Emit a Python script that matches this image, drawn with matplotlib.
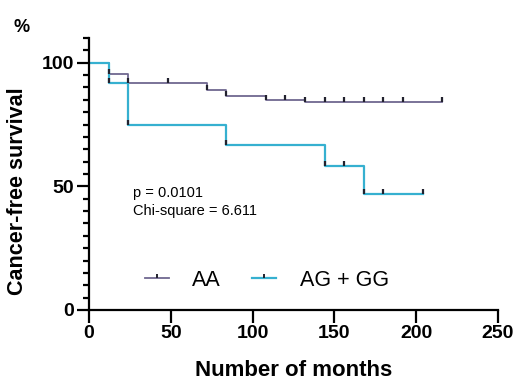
import matplotlib
matplotlib.use("Agg")
import matplotlib.pyplot as plt
from matplotlib.lines import Line2D

plt.rcParams['font.family'] = ['Liberation Sans', 'DejaVu Sans']

# ---- data ----
aa_times = [0, 12, 24, 72, 84, 108, 132, 216]
aa_surv = [100, 95.5, 92, 89, 86.5, 85, 84, 84]
aa_ticks_t = [12, 24, 48, 72, 84, 108, 120, 132, 144, 156, 168, 180, 192, 216]
aa_ticks_s = [95.5, 92, 92, 89, 86.5, 85, 85, 84, 84, 84, 84, 84, 84, 84]

ag_times = [0, 12, 24, 84, 144, 168, 204]
ag_surv = [100, 91.7, 75, 66.7, 58.3, 47, 47]
ag_ticks_t = [12, 24, 84, 144, 156, 168, 180, 204]
ag_ticks_s = [91.7, 75, 66.7, 58.3, 58.3, 47, 47, 47]

series_names = ["AA", "AG + GG"]
x_ticks = [0, 50, 100, 150, 200, 250]
y_ticks = [0, 50, 100]

c_aa = "#6f6890"
c_ag = "#36b0d0"
c_tick = "#22222e"

W, H = 517, 383
fig = plt.figure(figsize=(W / 100, H / 100), dpi=100)
ax = fig.add_axes([89 / W, 1 - 310 / H, (498 - 89) / W, (310 - 38) / H])

ax.step(aa_times, aa_surv, where='post', color=c_aa, lw=1.3)
ax.step(ag_times, ag_surv, where='post', color=c_ag, lw=1.6)
ax.plot(aa_ticks_t, aa_ticks_s, ls='none', marker=2, ms=3.3, mew=1.6, color=c_tick)
ax.plot(ag_ticks_t, ag_ticks_s, ls='none', marker=2, ms=3.3, mew=1.6, color=c_tick)

ax.set_xlim(0, 250)
ax.set_ylim(0, 110)
ax.set_xticks(x_ticks)
ax.set_yticks(y_ticks)
ax.set_yticks(list(range(5, 111, 5)), minor=True)
for s in ['top', 'right']:
    ax.spines[s].set_visible(False)
for s in ['left', 'bottom']:
    ax.spines[s].set_linewidth(1.6)
ax.tick_params(axis='both', which='major', length=9, width=1.6, labelsize=14, pad=2)
ax.tick_params(axis='y', which='minor', length=4.5, width=1.6)
for lab in ax.get_xticklabels() + ax.get_yticklabels():
    lab.set_fontweight('bold')

fig.text(22 / W, 1 - 28 / H, "%", fontsize=13, fontweight='bold', ha='center', va='center')
fig.text(18 / W, 1 - 191 / H, "Cancer-free survival", fontsize=15.5, fontweight='bold',
         rotation=90, ha='center', va='center')
fig.text(294 / W, 1 - 370 / H, "Number of months", fontsize=16, fontweight='bold',
         ha='center', va='center')

fig.text(133 / W, 1 - 193 / H, "p = 0.0101", fontsize=10.5, ha='left', va='center')
fig.text(133 / W, 1 - 211 / H, "Chi-square = 6.611", fontsize=10.5, ha='left', va='center')

handles = [
    Line2D([], [], color=c_aa, lw=1.3, marker=2, ms=3, mew=1.4, mec=c_tick),
    Line2D([], [], color=c_ag, lw=1.6, marker=2, ms=3, mew=1.4, mec=c_tick),
]
fig.legend(handles, series_names, loc='center left',
           bbox_to_anchor=(145 / W, 1 - 280 / H), bbox_transform=fig.transFigure,
           ncol=2, frameon=False, fontsize=15.5, numpoints=1,
           handlelength=1.1, handletextpad=1.1, columnspacing=1.45,
           borderpad=0, borderaxespad=0)

fig.savefig("out.png", dpi=100)
